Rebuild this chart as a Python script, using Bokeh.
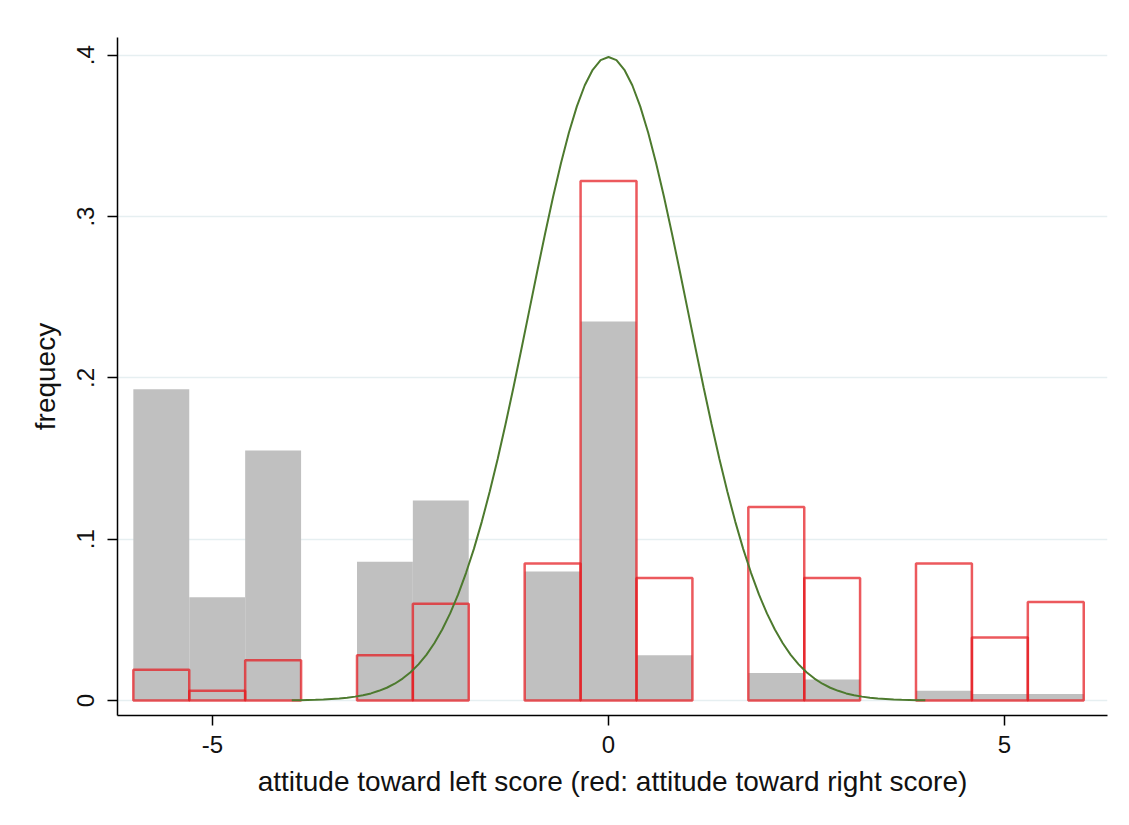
from bokeh.plotting import figure
from bokeh.models import FixedTicker, CustomJSTickFormatter, Range1d
from bokeh.embed import file_html
from bokeh.resources import INLINE

# --- data ---
bin_edges = [-6.0, -5.294, -4.588, -3.882, -3.176, -2.471, -1.765, -1.059, -0.353,
             0.353, 1.059, 1.765, 2.471, 3.176, 3.882, 4.588, 5.294, 6.0]
left_freq = [0.193, 0.064, 0.155, 0.0, 0.086, 0.124, 0.0, 0.080, 0.235,
             0.028, 0.0, 0.017, 0.013, 0.0, 0.006, 0.004, 0.004]
right_freq = [0.019, 0.006, 0.025, 0.0, 0.028, 0.060, 0.0, 0.085, 0.322,
              0.076, 0.0, 0.120, 0.076, 0.0, 0.085, 0.039, 0.061]
curve_x = [-4.0, -3.9, -3.8, -3.7, -3.6, -3.5, -3.4, -3.3, -3.2, -3.1,
           -3.0, -2.9, -2.8, -2.7, -2.6, -2.5, -2.4, -2.3, -2.2, -2.1,
           -2.0, -1.9, -1.8, -1.7, -1.6, -1.5, -1.4, -1.3, -1.2, -1.1,
           -1.0, -0.9, -0.8, -0.7, -0.6, -0.5, -0.4, -0.3, -0.2, -0.1,
           0.0, 0.1, 0.2, 0.3, 0.4, 0.5, 0.6, 0.7, 0.8, 0.9,
           1.0, 1.1, 1.2, 1.3, 1.4, 1.5, 1.6, 1.7, 1.8, 1.9,
           2.0, 2.1, 2.2, 2.3, 2.4, 2.5, 2.6, 2.7, 2.8, 2.9,
           3.0, 3.1, 3.2, 3.3, 3.4, 3.5, 3.6, 3.7, 3.8, 3.9, 4.0]
curve_y = [0.0001, 0.0002, 0.0003, 0.0004, 0.0006, 0.0009, 0.0012, 0.0017, 0.0024, 0.0033,
           0.0044, 0.0060, 0.0079, 0.0104, 0.0136, 0.0175, 0.0224, 0.0283, 0.0355, 0.0440,
           0.0540, 0.0656, 0.0790, 0.0940, 0.1109, 0.1295, 0.1497, 0.1714, 0.1942, 0.2179,
           0.2420, 0.2661, 0.2897, 0.3123, 0.3332, 0.3521, 0.3683, 0.3814, 0.3910, 0.3970,
           0.3989, 0.3970, 0.3910, 0.3814, 0.3683, 0.3521, 0.3332, 0.3123, 0.2897, 0.2661,
           0.2420, 0.2179, 0.1942, 0.1714, 0.1497, 0.1295, 0.1109, 0.0940, 0.0790, 0.0656,
           0.0540, 0.0440, 0.0355, 0.0283, 0.0224, 0.0175, 0.0136, 0.0104, 0.0079, 0.0060,
           0.0044, 0.0033, 0.0024, 0.0017, 0.0012, 0.0009, 0.0006, 0.0004, 0.0003, 0.0002, 0.0001]
y_ticks = [0.0, 0.1, 0.2, 0.3, 0.4]
x_ticks = [-5, 0, 5]

FONT = "Liberation Sans"

p = figure(width=1113, height=809, output_backend="svg", toolbar_location=None,
           x_range=Range1d(-6.20, 6.30), y_range=Range1d(-0.0093, 0.411),
           min_border_left=117, min_border_top=37, min_border_right=6,
           min_border_bottom=94)
p.background_fill_color = "white"
p.border_fill_color = "white"
p.outline_line_color = None

def nonzero(vals):
    l, r, t = [], [], []
    for i, v in enumerate(vals):
        if v > 0:
            l.append(bin_edges[i]); r.append(bin_edges[i + 1]); t.append(v)
    return l, r, t

gl, gr, gt = nonzero(left_freq)
p.quad(left=gl, right=gr, top=gt, bottom=0, fill_color="#c0c0c0", line_color=None)

rl, rr, rt = nonzero(right_freq)
p.quad(left=rl, right=rr, top=rt, bottom=0, fill_color=None,
       line_color="#e5191e", line_alpha=0.72, line_width=2.5)

p.line(curve_x, curve_y, line_color="#4d7a2e", line_width=2)

# grid
p.xgrid.visible = False
p.ygrid.ticker = FixedTicker(ticks=y_ticks)
p.ygrid.grid_line_color = "#e6eff1"
p.ygrid.grid_line_width = 1.3

# axes
p.xaxis.ticker = FixedTicker(ticks=x_ticks)
p.xaxis.formatter = CustomJSTickFormatter(code="return String(tick);")
p.yaxis.ticker = FixedTicker(ticks=y_ticks)
p.yaxis.formatter = CustomJSTickFormatter(
    code="return tick == 0 ? '0' : tick.toFixed(1).replace(/^0/, '');")
p.yaxis.major_label_orientation = "vertical"
p.xaxis.axis_label = "attitude toward left score (red: attitude toward right score)"
p.yaxis.axis_label = "frequecy"

for ax in (p.xaxis[0], p.yaxis[0]):
    ax.axis_line_color = "black"
    ax.axis_line_width = 1.5
    ax.major_tick_line_color = "black"
    ax.major_tick_line_width = 1.5
    ax.major_tick_out = 10
    ax.major_tick_in = 0
    ax.minor_tick_line_color = None
    ax.major_label_text_font = FONT
    ax.major_label_text_font_size = "24px"
    ax.major_label_text_color = "#111111"
    ax.axis_label_text_font = FONT
    ax.axis_label_text_font_size = "28px"
    ax.axis_label_text_font_style = "normal"
    ax.axis_label_text_color = "#111111"

p.xaxis.major_label_standoff = 10
p.xaxis.axis_label_standoff = 10
p.yaxis.major_label_standoff = 13
p.yaxis.axis_label_standoff = 14

open("out.html", "w").write(file_html(p, INLINE))
